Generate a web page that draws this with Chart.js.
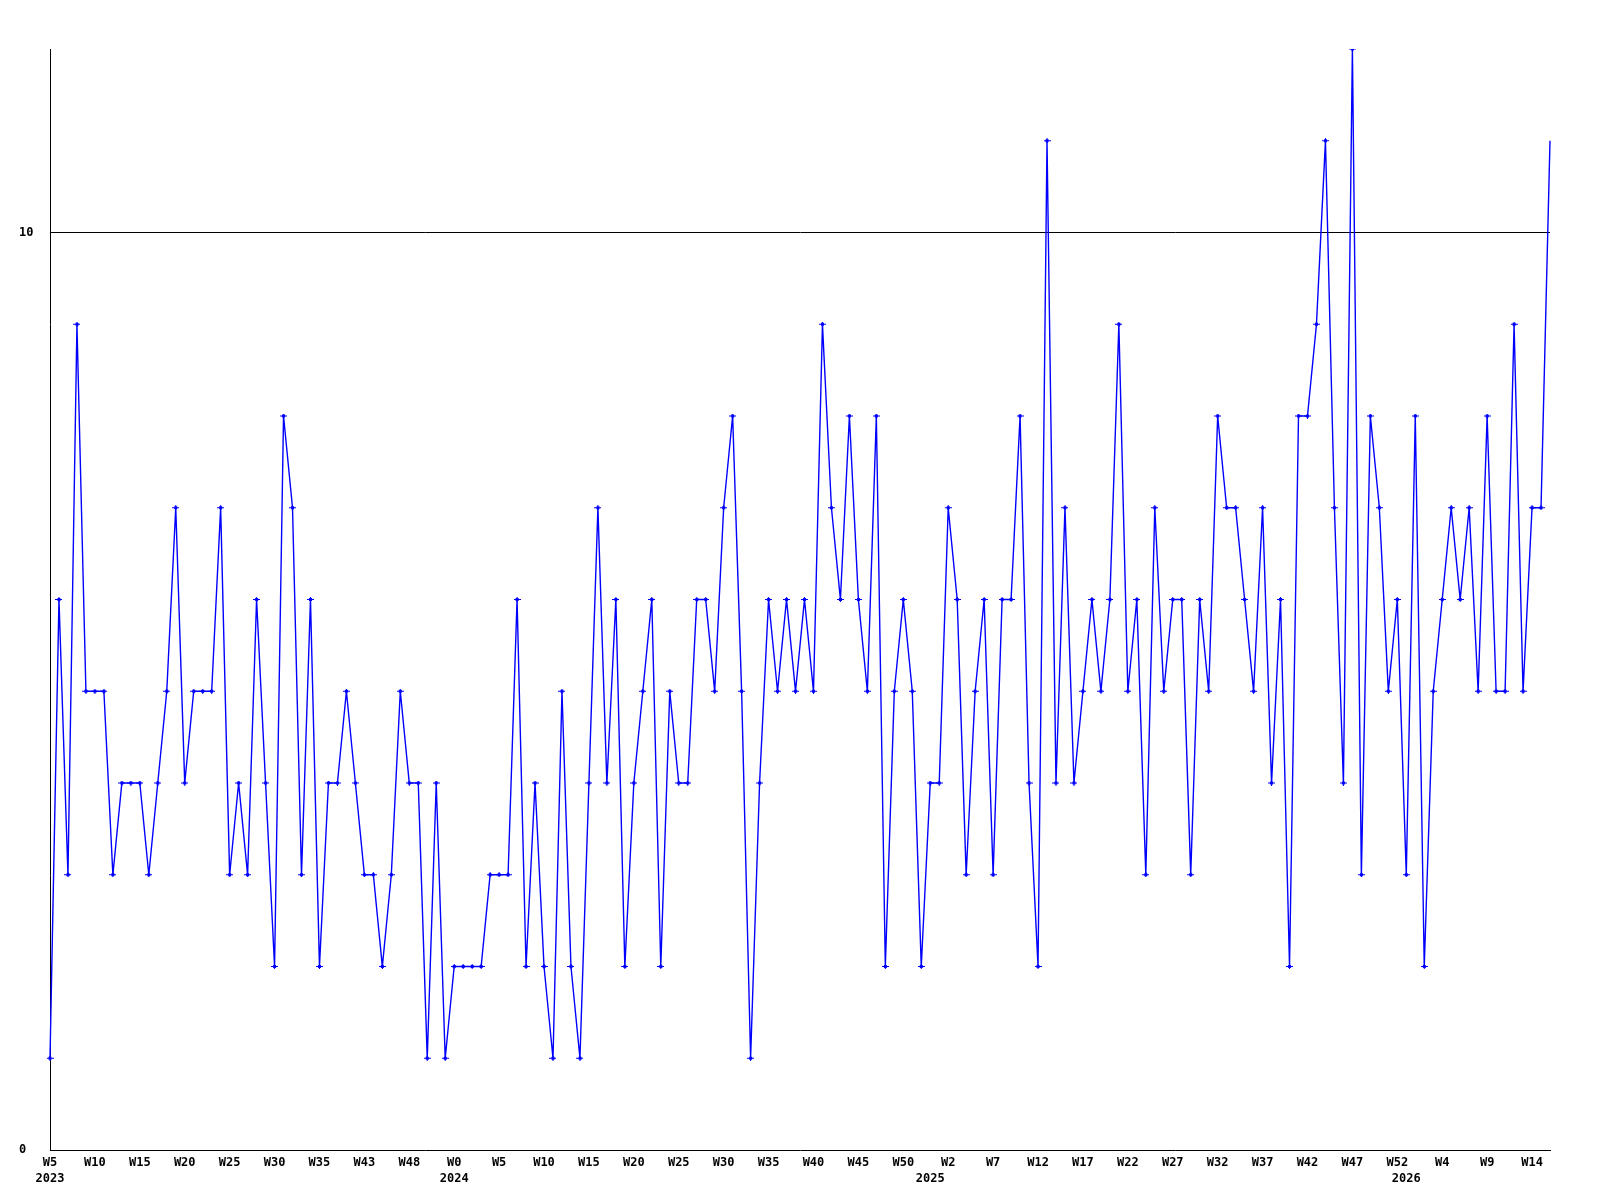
<!DOCTYPE html>
<html>
<head>
<meta charset="utf-8">
<title>Weekly count</title>
<script src="https://cdn.jsdelivr.net/npm/chart.js@4/dist/chart.umd.min.js"></script>
<style>
  html, body { margin: 0; padding: 0; background: #fff; }
  #chart { display: block; }
</style>
</head>
<body>
<canvas id="chart" width="1600" height="1200"></canvas>
<script>
// Week numbers per year (2023 has a gap after W37)
const years = [2023, 2024, 2025, 2026];
const weeks2023 = [5, 6, 7, 8, 9, 10, 11, 12, 13, 14, 15, 16, 17, 18, 19, 20, 21, 22, 23, 24,
  25, 26, 27, 28, 29, 30, 31, 32, 33, 34, 35, 36, 37, 41, 42, 43, 44, 45, 46, 47, 48, 49, 50, 51, 52];
const weeks2024 = [0, 1, 2, 3, 4, 5, 6, 7, 8, 9, 10, 11, 12, 13, 14, 15, 16, 17, 18, 19, 20, 21, 22,
  23, 24, 25, 26, 27, 28, 29, 30, 31, 32, 33, 34, 35, 36, 37, 38, 39, 40, 41, 42, 43, 44, 45, 46,
  47, 48, 49, 50, 51, 52];
const weeks2025 = [0, 1, 2, 3, 4, 5, 6, 7, 8, 9, 10, 11, 12, 13, 14, 15, 16, 17, 18, 19, 20, 21, 22,
  23, 24, 25, 26, 27, 28, 29, 30, 31, 32, 33, 34, 35, 36, 37, 38, 39, 40, 41, 42, 43, 44, 45, 46,
  47, 48, 49, 50, 51, 52];
const weeks2026 = [0, 1, 2, 3, 4, 5, 6, 7, 8, 9, 10, 11, 12, 13, 14, 15, 16];

// Weekly values
const counts = [
  1, 6, 3, 9, 5, 5, 5, 3, 4, 4,
  4, 3, 4, 5, 7, 4, 5, 5, 5, 7,
  3, 4, 3, 6, 4, 2, 8, 7, 3, 6,
  2, 4, 4, 5, 4, 3, 3, 2, 3, 5,
  4, 4, 1, 4, 1, 2, 2, 2, 2, 3,
  3, 3, 6, 2, 4, 2, 1, 5, 2, 1,
  4, 7, 4, 6, 2, 4, 5, 6, 2, 5,
  4, 4, 6, 6, 5, 7, 8, 5, 1, 4,
  6, 5, 6, 5, 6, 5, 9, 7, 6, 8,
  6, 5, 8, 2, 5, 6, 5, 2, 4, 4,
  7, 6, 3, 5, 6, 3, 6, 6, 8, 4,
  2, 11, 4, 7, 4, 5, 6, 5, 6, 9,
  5, 6, 3, 7, 5, 6, 6, 3, 6, 5,
  8, 7, 7, 6, 5, 7, 4, 6, 2, 8,
  8, 9, 11, 7, 4, 12, 3, 8, 7, 5,
  6, 3, 8, 2, 5, 6, 7, 6, 7, 5,
  8, 5, 5, 9, 5, 7, 7, 11
];

// Y tick values and axis range
const yTicks = [0, 10];
const yMax = 12;

// Build category list: one entry per point
const weekLists = [weeks2023, weeks2024, weeks2025, weeks2026];
const categories = [];
const catYear = [];
const catWeek = [];
weekLists.forEach((list, i) => {
  list.forEach((w) => {
    categories.push(years[i] + " W" + w);
    catYear.push(years[i]);
    catWeek.push(w);
  });
});

// Small diamond marker like the original
function makeMarker() {
  const c = document.createElement("canvas");
  c.width = 7;
  c.height = 5;
  const g = c.getContext("2d");
  g.fillStyle = "#0000ff";
  g.fillRect(0, 2, 7, 1);
  g.fillRect(2, 1, 3, 3);
  g.fillRect(3, 0, 1, 5);
  return c;
}

const tickFont = { family: "'DejaVu Sans Mono', monospace", size: 12, weight: "bold", lineHeight: 1.3 };

new Chart(document.getElementById("chart"), {
  type: "line",
  data: {
    labels: categories,
    datasets: [
      {
        data: counts,
        borderColor: "#0000ff",
        borderWidth: 1.4,
        tension: 0,
        fill: false,
        pointStyle: makeMarker(),
        pointRadius: (ctx) => (ctx.dataIndex === counts.length - 1 ? 0 : 3),
      },
    ],
  },
  options: {
    responsive: false,
    animation: false,
    layout: { padding: { left: 19, right: 50, top: 49, bottom: 0 } },
    plugins: {
      legend: { display: false },
      tooltip: { enabled: false },
    },
    scales: {
      x: {
        type: "category",
        offset: false,
        grid: { display: false },
        border: { display: true, color: "#000", width: 1 },
        ticks: {
          autoSkip: false,
          maxRotation: 0,
          minRotation: 0,
          padding: -3,
          color: "#000",
          font: tickFont,
          callback: function (value, index) {
            const first = index === 0 || catYear[index] !== catYear[index - 1];
            const weekLabel = index % 5 === 0 ? "W" + catWeek[index] : "";
            if (first) return [weekLabel, String(catYear[index])];
            return weekLabel || null;
          },
        },
        afterFit: (scale) => {
          scale.height = 50;
        },
      },
      y: {
        min: 0,
        max: yMax,
        grid: {
          drawTicks: false,
          color: (ctx) => (ctx.tick && ctx.tick.value === 10 ? "#000" : "rgba(0,0,0,0)"),
          lineWidth: 1,
        },
        border: { display: true, color: "#000", width: 1 },
        afterBuildTicks: (scale) => {
          scale.ticks = yTicks.map((v) => ({ value: v }));
        },
        ticks: {
          crossAlign: "far",
          padding: 0,
          color: "#000",
          font: tickFont,
        },
        afterFit: (scale) => {
          scale.width = 31;
        },
      },
    },
  },
});
</script>
</body>
</html>
